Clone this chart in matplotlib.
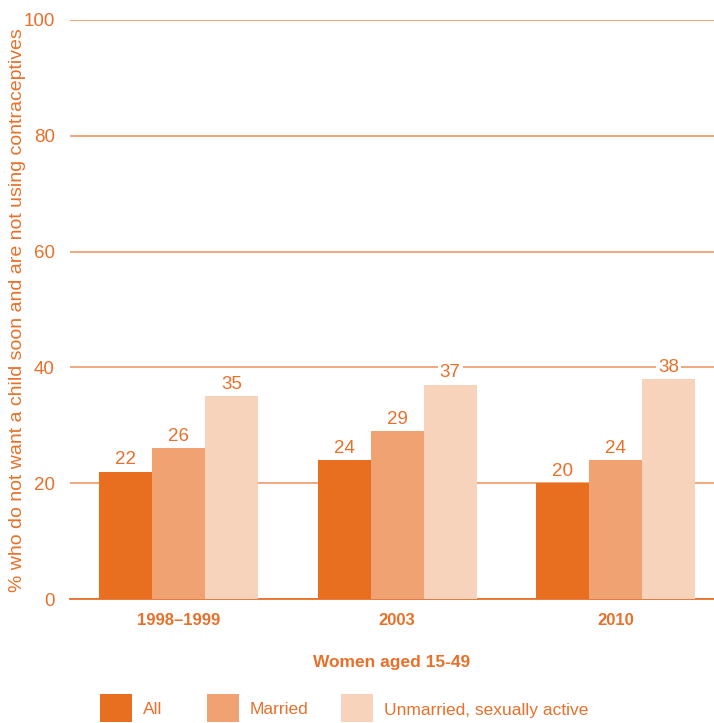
import numpy as np
import matplotlib.pyplot as plt
from matplotlib import font_manager
from matplotlib.patches import Rectangle

names = set(f.name for f in font_manager.fontManager.ttflist)
fam = ['Liberation Sans Narrow', 'DejaVu Sans'] if 'Liberation Sans Narrow' in names else ['Liberation Sans', 'DejaVu Sans']
plt.rcParams['font.family'] = fam

years = ["1998\u20131999", "2003", "2010"]
series = ["All", "Married", "Unmarried, sexually active"]
all_vals = [22, 24, 20]
married_vals = [26, 29, 24]
unmarried_vals = [35, 37, 38]
yticks = [0, 20, 40, 60, 80, 100]

orange = "#E8702A"
colors = ["#E86E20", "#F0A272", "#F6D3BA"]

fig = plt.figure(figsize=(7.14, 7.23), dpi=100)
ax = fig.add_axes([70/714, 124/723, 644/714, 579/723])

x = np.arange(len(years))
w = 0.2426
for i, (vals, c) in enumerate(zip([all_vals, married_vals, unmarried_vals], colors)):
    pos = x + (i - 1)*w
    ax.bar(pos, vals, width=w, color=c, zorder=3)
    for p, v in zip(pos, vals):
        ax.text(p, v + 0.6, str(v), ha='center', va='bottom', color=orange, fontsize=13.5,
                zorder=4, bbox=dict(facecolor='white', edgecolor='none', pad=1.5))

ax.set_xlim(-0.497, 2.451)
ax.set_ylim(0, 100)
ax.set_yticks(yticks)
ax.yaxis.grid(True, color="#EE9A66", linewidth=1.2, zorder=0)
ax.set_axisbelow(True)
for s in ['top', 'right', 'left']:
    ax.spines[s].set_visible(False)
ax.spines['bottom'].set_color("#E8702A")
ax.spines['bottom'].set_linewidth(1.3)
ax.tick_params(axis='both', length=0, colors=orange, labelsize=13.5)
ax.tick_params(axis='y', pad=11)
ax.set_xticks(x)
ax.set_xticklabels(years, fontweight='bold', fontsize=12)
ax.tick_params(axis='x', pad=10)

fig.text(18/714, 1 - 310/723, "% who do not want a child soon and are not using contraceptives",
         rotation=90, ha='center', va='center', color=orange, fontsize=14)
fig.text(392/714, 1 - 663/723, "Women aged 15-49", ha='center', va='center',
         color=orange, fontsize=12.5, fontweight='bold')

leg_x = [100, 207, 341]
for lx, c, name in zip(leg_x, colors, series):
    fig.patches.append(Rectangle((lx/714, 1 - 722/723), 32/714, 28/723,
                                 transform=fig.transFigure, facecolor=c, edgecolor='none'))
    fig.text((lx + 43)/714, 1 - 710/723, name, ha='left', va='center', color=orange, fontsize=12.5)

fig.savefig("out.png", dpi=100)
